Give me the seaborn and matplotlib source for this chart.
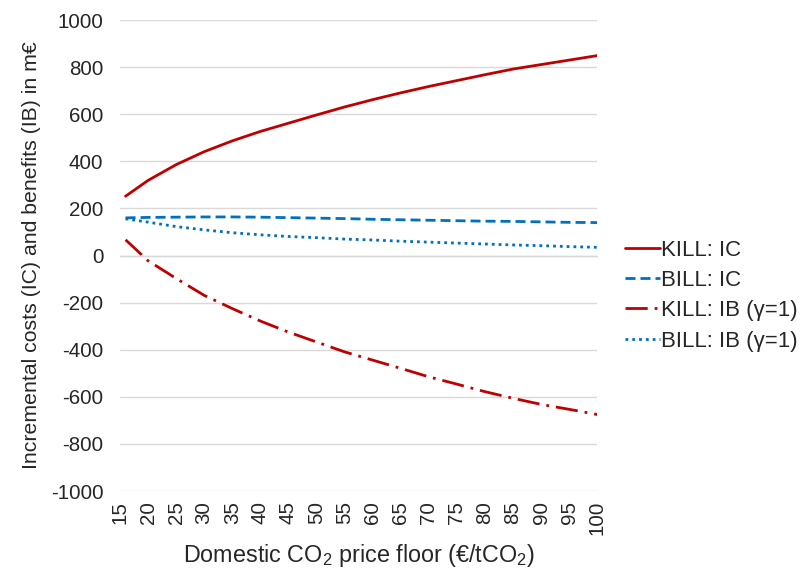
import pandas as pd
import seaborn as sns
import matplotlib.pyplot as plt

price = [16, 20, 25, 30, 35, 40, 45, 50, 55, 60, 65, 70, 75, 80, 85, 90, 95, 100]

kill_ic = [252, 319, 386, 441, 487, 527, 562, 597, 631, 662, 691, 718, 743, 768, 792, 811, 830, 849]
bill_ic = [160, 162, 163, 164, 164, 163, 161, 159, 157, 154, 152, 150, 148, 146, 145, 143, 141, 140]
kill_ib = [67, -22, -97, -169, -225, -278, -325, -367, -409, -444, -479, -515, -546, -578, -606, -632, -653, -675]
bill_ib = [156, 142, 123, 109, 97, 88, 81, 76, 70, 66, 61, 57, 53, 49, 45, 42, 38, 35]

series_names = ["KILL: IC", "BILL: IC", "KILL: IB (γ=1)", "BILL: IB (γ=1)"]
x_ticks = list(range(15, 101, 5))
y_ticks = list(range(-1000, 1001, 200))

RED = "#C00000"
BLUE = "#0070C0"
GRID = "#D9D9D9"
TXT = "#262626"

df = pd.concat([
    pd.DataFrame({"price": price, "value": vals, "series": name})
    for name, vals in zip(series_names, [kill_ic, bill_ic, kill_ib, bill_ib])
])

sns.set_theme(style="white")
plt.rcParams["font.family"] = ["Liberation Sans", "DejaVu Sans"]
plt.rcParams["mathtext.fontset"] = "custom"
plt.rcParams["mathtext.rm"] = "Liberation Sans"
plt.rcParams["mathtext.default"] = "regular"

fig = plt.figure(figsize=(8.05, 5.73), dpi=100)
ax = fig.add_axes([0.149, 0.143, 0.593, 0.822])

palette = dict(zip(series_names, [RED, BLUE, RED, BLUE]))
dashes = dict(zip(series_names, ["", (3.6, 1.8), (8, 2.5, 1, 2.5), (1, 1.45)]))
sns.lineplot(data=df, x="price", y="value", hue="series", style="series",
             palette=palette, dashes=dashes, linewidth=2, legend=False, ax=ax)
for ln in ax.lines:
    ln.set_dash_capstyle("butt")
    ln.set_solid_joinstyle("round")

ax.set_xlim(15, 100)
ax.set_ylim(-1000, 1000)
ax.set_yticks(y_ticks, labels=[str(v) for v in y_ticks])
ax.tick_params(axis="y", length=0, labelsize=14.8, pad=12, colors=TXT)
ax.grid(axis="y", color=GRID, lw=1)
ax.grid(axis="x", visible=False)
for s in ["top", "right", "left"]:
    ax.spines[s].set_visible(False)

# horizontal axis crosses at zero with cross tick marks, labels at the bottom
ax.spines["bottom"].set_position(("data", 0))
ax.spines["bottom"].set_color(GRID)
ax.spines["bottom"].set_linewidth(1)
ax.set_xticks(x_ticks)
ax.tick_params(axis="x", direction="inout", length=10, width=1, color=GRID, labelbottom=False)

sec = ax.secondary_xaxis("bottom")
sec.set_xticks(x_ticks, labels=[str(v) for v in x_ticks])
sec.tick_params(length=0, labelsize=14.8, pad=7, labelrotation=90, colors=TXT)
sec.spines["bottom"].set_visible(False)
sec.set_xlabel("Domestic CO$_2$ price floor (€/tCO$_2$)", fontsize=16.8, color=TXT, labelpad=5)

ax.set_xlabel("")
ax.set_ylabel("Incremental costs (IC) and benefits (IB) in m€", fontsize=15.3, color=TXT, labelpad=7)

ax.legend(handles=ax.lines[:4], labels=series_names, loc="center left",
          bbox_to_anchor=(1.035, 0.415), frameon=False, fontsize=16,
          handlelength=1.55, handletextpad=0.08, labelspacing=0.42, borderpad=0,
          labelcolor=TXT)

fig.savefig("out.png", dpi=100)
